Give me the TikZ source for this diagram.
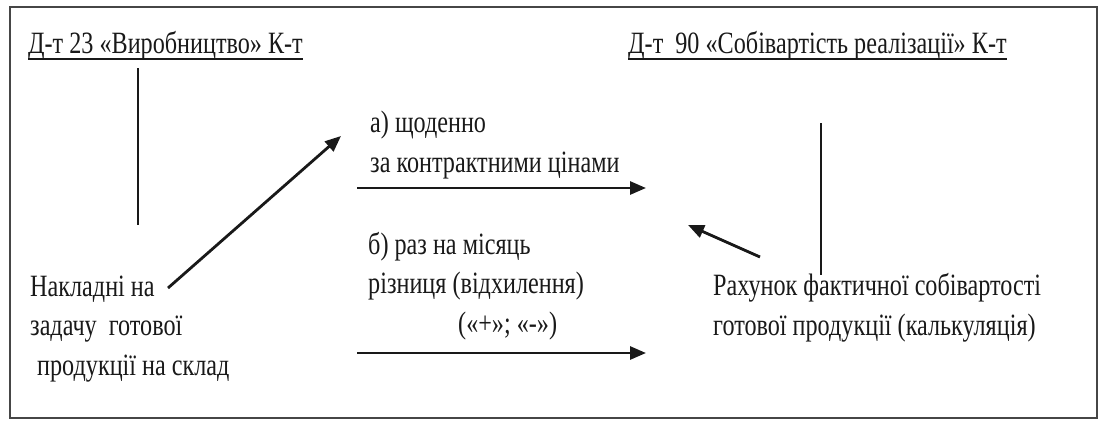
\documentclass[tikz,border=0pt]{standalone}
\usepackage{fontspec}
\setmainfont{Liberation Serif}[FakeStretch=0.78]
\usetikzlibrary{arrows.meta}
\definecolor{ink}{RGB}{25,25,25}
\definecolor{frame}{RGB}{70,70,70}
\tikzset{
  txt/.style={inner sep=0pt, anchor=base west, align=left, text=ink,
    font=\fontsize{31}{39.5}\selectfont},
  head/.style={txt},
  tline/.style={line width=1.4pt, draw=ink},
  flow/.style={line width=2.8pt, draw=ink,
    -{Triangle[length=16pt,width=13pt]}},
}
\begin{document}
\begin{tikzpicture}[x=1pt,y=-1pt]
  \useasboundingbox (0,0) rectangle (1099,421);
  % outer frame
  \draw[frame, line width=2pt] (10,7) rectangle (1097,418);

  % T-account headings
  \node[head] (acc23) at (28,53) {Д-т 23 «Виробництво» К-т};
  \node[head] (acc90) at (628,53) {Д-т \ 90 «Собівартість реалізації» К-т};
  \draw[line width=1.6pt, ink] ([yshift=-6pt]acc23.base west) -- ([yshift=-6pt]acc23.base east);
  \draw[line width=1.6pt, ink] ([yshift=-6pt]acc90.base west) -- ([yshift=-6pt]acc90.base east);

  % account split lines
  \coordinate (t23a) at (138,68);
  \coordinate (t23b) at (138,225);
  \coordinate (t90a) at (821,123);
  \coordinate (t90b) at (821,275);
  \draw[tline] (t23a) -- (t23b);
  \draw[tline] (t90a) -- (t90b);

  % source documents (anchored at the baseline of the last line)
  \node[txt] (invoice) at (30,375)
    {Накладні на\\задачу \ готової\\\hspace*{7pt}продукції на склад};
  \node[txt] (calc) at (713,335)
    {Рахунок фактичної собівартості\\готової продукції (калькуляція)};

  % posting descriptions
  \node[txt] (daily) at (370,172) {а) щоденно\\за контрактними цінами};
  \node[txt] (monthly) at (368,333)
    {б) раз на місяць\\різниця (відхилення)\\\hspace*{90pt}(«+»; «-»)};

  % flows
  \coordinate (invEnd) at (168,288);
  \coordinate (invTip) at (341,136);
  \coordinate (aStart) at (357,188);
  \coordinate (aEnd) at (646,188);
  \coordinate (bStart) at (357,353);
  \coordinate (bEnd) at (646,353);
  \coordinate (calcEnd) at (760,257);
  \coordinate (calcTip) at (688,225);
  \draw[flow] (invEnd) -- (invTip);
  \draw[flow] (aStart) -- (aEnd);
  \draw[flow] (bStart) -- (bEnd);
  \draw[flow] (calcEnd) -- (calcTip);
\end{tikzpicture}
\end{document}
